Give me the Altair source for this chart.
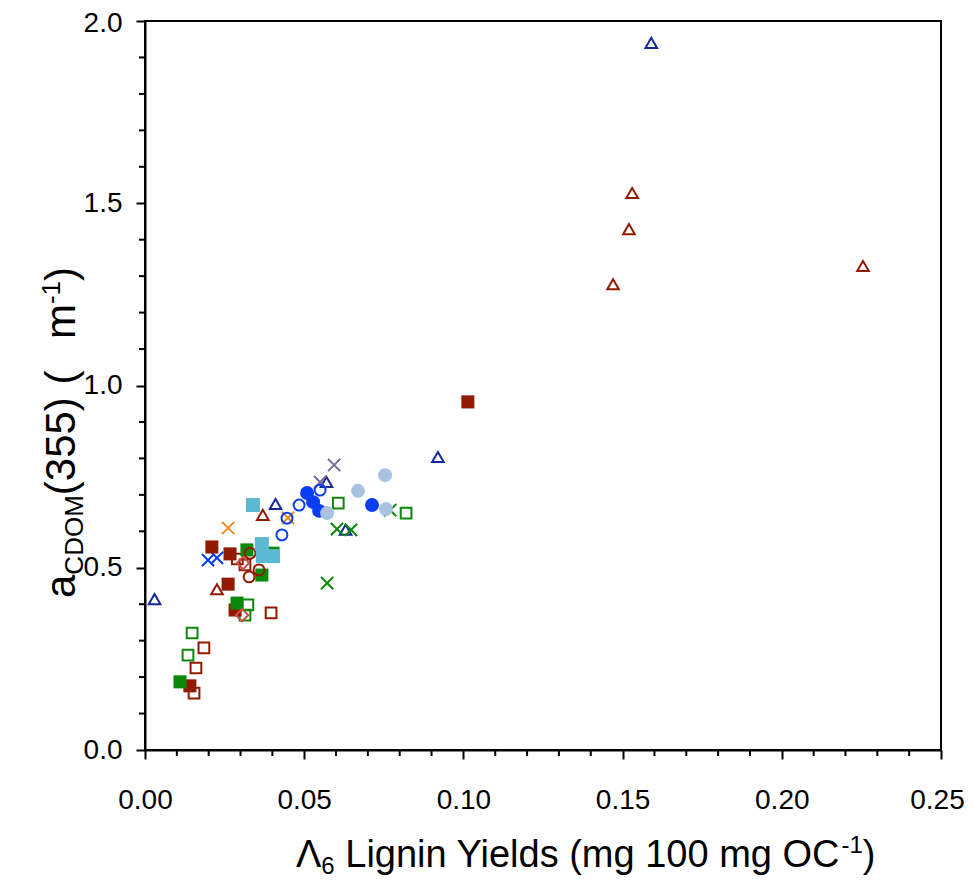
import altair as alt
import pandas as pd

# ---------------- data ----------------
navy_tri_x = [0.159, 0.092, 0.003, 0.041, 0.057, 0.063]
navy_tri_y = [1.940, 0.804, 0.414, 0.675, 0.735, 0.604]

red_tri_x = [0.153, 0.152, 0.147, 0.2255, 0.037, 0.0226]
red_tri_y = [1.528, 1.429, 1.278, 1.328, 0.645, 0.441]

green_sq_open_x = [0.0148, 0.0135, 0.0323, 0.0314, 0.0607, 0.082]
green_sq_open_y = [0.321, 0.260, 0.398, 0.370, 0.677, 0.650]

red_sq_open_x = [0.0185, 0.016, 0.0154, 0.0396, 0.029, 0.0314]
red_sq_open_y = [0.280, 0.225, 0.156, 0.376, 0.524, 0.508]

green_x_x = [0.0603, 0.0647, 0.0572, 0.077]
green_x_y = [0.606, 0.604, 0.458, 0.658]

blue_x_x = [0.0198, 0.0226]
blue_x_y = [0.521, 0.527]

orange_x_x = [0.0261, 0.0449]
orange_x_y = [0.609, 0.637]

purple_x_x = [0.0594, 0.055]
purple_x_y = [0.782, 0.735]

blue_circ_open_x = [0.0484, 0.0446, 0.043, 0.055]
blue_circ_open_y = [0.672, 0.636, 0.590, 0.713]

blue_circ_fill_x = [0.0509, 0.0528, 0.0547, 0.0713]
blue_circ_fill_y = [0.705, 0.680, 0.656, 0.672]

red_sq_fill_x = [0.1014, 0.021, 0.0267, 0.0261, 0.0283, 0.0141]
red_sq_fill_y = [0.955, 0.557, 0.538, 0.455, 0.384, 0.176]

green_sq_fill_x = [0.011, 0.032, 0.0367, 0.0289, 0.0402]
green_sq_fill_y = [0.187, 0.549, 0.480, 0.403, 0.540]

red_circ_open_x = [0.033, 0.0358, 0.0327]
red_circ_open_y = [0.540, 0.494, 0.475]

red_diam_x = [0.0308, 0.0305]
red_diam_y = [0.513, 0.370]

lightblue_circ_x = [0.0754, 0.0669, 0.0572, 0.0757]
lightblue_circ_y = [0.754, 0.711, 0.650, 0.661]

cyan_sq_x = [0.0339, 0.0367, 0.037, 0.0402]
cyan_sq_y = [0.672, 0.565, 0.532, 0.532]

x_major = [0.00, 0.05, 0.10, 0.15, 0.20, 0.25]
x_minor = [0.01, 0.02, 0.03, 0.04, 0.06, 0.07, 0.08, 0.09, 0.11, 0.12, 0.13, 0.14,
           0.16, 0.17, 0.18, 0.19, 0.21, 0.22, 0.23, 0.24]
y_major = [0.0, 0.5, 1.0, 1.5, 2.0]
y_minor = [0.1, 0.2, 0.3, 0.4, 0.6, 0.7, 0.8, 0.9, 1.1, 1.2, 1.3, 1.4, 1.6, 1.7, 1.8, 1.9]

# ---------------- styles ----------------
XPATH = "M-1,-1L1,1M-1,1L1,-1"
NAVY = "#13299C"
DRED = "#921A00"
GREEN = "#0A8A0A"
BLUE = "#0B3DF5"
series = [
    (navy_tri_x, navy_tri_y, "triangle-up", False, NAVY, 135),
    (red_tri_x, red_tri_y, "triangle-up", False, DRED, 135),
    (green_sq_open_x, green_sq_open_y, "square", False, GREEN, 115),
    (red_sq_open_x, red_sq_open_y, "square", False, DRED, 115),
    (green_x_x, green_x_y, XPATH, False, GREEN, 150),
    (blue_x_x, blue_x_y, XPATH, False, BLUE, 150),
    (orange_x_x, orange_x_y, XPATH, False, "#F08A1C", 150),
    (purple_x_x, purple_x_y, XPATH, False, "#7A6A94", 150),
    (blue_circ_open_x, blue_circ_open_y, "circle", False, BLUE, 120),
    (blue_circ_fill_x, blue_circ_fill_y, "circle", True, BLUE, 195),
    (red_sq_fill_x, red_sq_fill_y, "square", True, DRED, 170),
    (green_sq_fill_x, green_sq_fill_y, "square", True, GREEN, 170),
    (red_circ_open_x, red_circ_open_y, "circle", False, DRED, 120),
    (red_diam_x, red_diam_y, "diamond", False, "#C8504B", 150),
    (lightblue_circ_x, lightblue_circ_y, "circle", True, "#A8C2E0", 195),
    (cyan_sq_x, cyan_sq_y, "square", True, "#5BB9D3", 195),
]

W, H = 796, 729
FONT = "Liberation Sans"

xscale = alt.Scale(domain=[0, 0.25], nice=False, zero=False)
yscale = alt.Scale(domain=[0, 2.0], nice=False, zero=False)

xaxis = alt.Axis(values=x_major, format=".2f", title=None, grid=False,
                 labelFontSize=28, labelFont=FONT, labelColor="black",
                 labelFlush=False, labelOverlap=False,
                 labelOffset={"condition": {"test": "datum.value >= 0.249", "value": -4},
                              "value": 0},
                 tickSize=9, tickWidth=2, tickColor="black",
                 domainColor="black", domainWidth=2, labelPadding=27)
yaxis = alt.Axis(values=y_major, format=".1f", title=None, grid=False,
                 labelFontSize=28, labelFont=FONT, labelColor="black",
                 labelFlush=False, labelOverlap=False,
                 labelOffset={"condition": {"test": "datum.value >= 1.99", "value": 2},
                              "value": 0},
                 tickSize=9, tickWidth=2, tickColor="black",
                 domainColor="black", domainWidth=2, labelPadding=14)

layers = []
for xs, ys, shape, filled, color, size in series:
    df = pd.DataFrame({"x": xs, "y": ys})
    kw = dict(shape=shape, filled=filled, color=color, size=size, opacity=1)
    kw["strokeWidth"] = 0 if filled else 2
    ch = alt.Chart(df).mark_point(**kw).encode(
        x=alt.X("x:Q", scale=xscale, axis=xaxis),
        y=alt.Y("y:Q", scale=yscale, axis=yaxis),
    )
    layers.append(ch)

# minor ticks
xm = alt.Chart(pd.DataFrame({"v": x_minor})).mark_rule(color="black", strokeWidth=2).encode(
    x=alt.X("v:Q", scale=xscale, axis=xaxis), y=alt.value(H), y2=alt.value(H + 6))
ym = alt.Chart(pd.DataFrame({"v": y_minor})).mark_rule(color="black", strokeWidth=2).encode(
    y=alt.Y("v:Q", scale=yscale, axis=yaxis), x=alt.value(0), x2=alt.value(-6))
layers += [xm, ym]

# ---------------- composed axis titles ----------------
AW = {" ": .278, "(": .333, ")": .333, "-": .333, "0": .556, "1": .556, "3": .556,
      "5": .556, "6": .556, "Λ": .667, "L": .556, "i": .222, "g": .556, "n": .556,
      "Y": .667, "e": .556, "l": .222, "d": .556, "s": .5, "m": .833, "O": .778,
      "C": .722, "D": .722, "M": .833, "a": .556}


def tw(s, size):
    return sum(AW.get(c, .556) for c in s) * size


def txt(s, x, y, size, angle=0):
    kw = dict(text=s, fontSize=size, font=FONT, color="black", align="left",
              baseline="alphabetic")
    if angle:
        kw["angle"] = angle
    return alt.Chart(alt.Data(values=[{}])).mark_text(**kw).encode(
        x=alt.value(x), y=alt.value(y))


# pieces: (text, size, baseline shift, leading gap in em of the main font)
F, S = 38, 24
x0, yb = 151, 846
pieces = [("Λ", F, 0, 0), ("6", S, 7, 0), ("Lignin Yields (mg 100 mg OC", F, 0, .278),
          ("-1", S, -14, 0), (")", F, 0, 0)]
cx = x0
for s, sz, off, gap in pieces:
    cx += gap * F
    layers.append(txt(s, cx, yb + off, sz))
    cx += tw(s, sz)

# y title (rotated, reads upward)
FY, SY = 42, 26
xb, y0 = -70, 577
pieces = [("a", FY, 0, 0), ("CDOM", SY, 8, 0), ("(355)", FY, 0, 0), ("(", FY, 0, .3),
          ("m", FY, 0, .75), ("-1", SY, -15, 0), (")", FY, 0, 0)]
cy = y0
for s, sz, off, gap in pieces:
    cy -= gap * FY
    layers.append(txt(s, xb + off, cy, sz, angle=270))
    cy -= tw(s, sz)

chart = alt.layer(*layers).properties(
    width=W, height=H,
    autosize=alt.AutoSizeParams(type="none"),
    padding={"left": 137, "top": 13, "right": 25, "bottom": 130},
).configure_view(stroke="black", strokeWidth=2)

chart.save("out.html", embed_options={"renderer": "svg", "actions": False})
